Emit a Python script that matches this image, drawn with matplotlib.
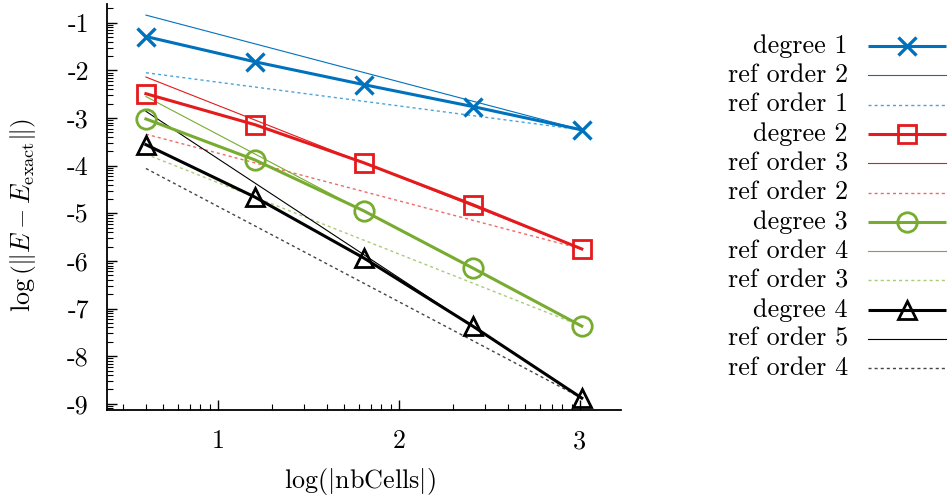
import numpy as np
import matplotlib
matplotlib.use("Agg")
import matplotlib.pyplot as plt
from matplotlib.ticker import LogLocator, FuncFormatter, NullFormatter

plt.rcParams['font.family'] = ['cmr10', 'DejaVu Serif']
plt.rcParams['mathtext.fontset'] = 'cm'
plt.rcParams['axes.unicode_minus'] = False
plt.rcParams['axes.formatter.use_mathtext'] = True

# ---- data (log10 values) ----
nb_cells = [4, 16, 64, 256, 1024]
deg1_log = [-1.29, -1.82, -2.30, -2.76, -3.25]
deg2_log = [-2.49, -3.14, -3.94, -4.82, -5.75]
deg3_log = [-3.02, -3.88, -4.95, -6.15, -7.37]
deg4_log = [-3.56, -4.66, -5.94, -7.37, -8.88]

# reference lines: values at first and last nbCells
ref_x = [4, 1024]
ref1_hi = [-0.84, -3.25]   # ref order 2 (degree 1)
ref1_lo = [-2.05, -3.25]   # ref order 1
ref2_hi = [-2.14, -5.75]   # ref order 3
ref2_lo = [-3.34, -5.75]   # ref order 2
ref3_hi = [-2.55, -7.37]   # ref order 4
ref3_lo = [-3.76, -7.37]   # ref order 3
ref4_hi = [-2.86, -8.88]   # ref order 5
ref4_lo = [-4.06, -8.88]   # ref order 4

labels = ["degree 1", "ref order 2", "ref order 1",
          "degree 2", "ref order 3", "ref order 2",
          "degree 3", "ref order 4", "ref order 3",
          "degree 4", "ref order 5", "ref order 4"]

blue, blue_l = "#0072BD", "#4DA3DB"
red, red_l = "#E41A1C", "#EE6A6B"
green, green_l = "#77AC30", "#A9CB7A"
black, black_l = "#000000", "#444444"

FS = 18.8
W, H = 949, 504
fig = plt.figure(figsize=(W / 100, H / 100), dpi=100)
ax = fig.add_axes([107 / W, 1 - 410 / H, (621 - 107) / W, (410 - 4) / H])

def p(v):
    return [10 ** x for x in v]

dot = (0, (2.2, 2.2))
styles = []
series = [
    (deg1_log, ref1_hi, ref1_lo, blue, blue_l, dict(marker='x', ms=13, mew=2.4)),
    (deg2_log, ref2_hi, ref2_lo, red, red_l, dict(marker='s', ms=13, mew=2.0, mfc='none')),
    (deg3_log, ref3_hi, ref3_lo, green, green_l, dict(marker='o', ms=14, mew=2.0, mfc='none')),
    (deg4_log, ref4_hi, ref4_lo, black, black_l, dict(marker='^', ms=13, mew=2.0, mfc='none')),
]
for d, rh, rl, c, cl, mk in series:
    ax.plot(ref_x, p(rh), color=c, lw=0.8, zorder=2)
    ax.plot(ref_x, p(rl), color=cl, lw=1.0, ls=dot, zorder=2)
    ax.plot(nb_cells, p(d), color=c, lw=2.2, mec=c, zorder=3, **mk)
    styles.append((c, cl, mk))

ax.set_xscale('log')
ax.set_yscale('log')
ax.set_xlim(10 ** 0.387, 10 ** 3.227)
ax.set_ylim(10 ** -9.13, 10 ** -0.607)

fmt = FuncFormatter(lambda v, pos: "%d" % int(round(np.log10(v))))
for a in (ax.xaxis, ax.yaxis):
    a.set_major_locator(LogLocator(base=10, numticks=30))
    a.set_minor_locator(LogLocator(base=10, subs=np.arange(2, 10), numticks=30))
    a.set_major_formatter(fmt)
    a.set_minor_formatter(NullFormatter())

ax.spines['top'].set_visible(False)
ax.spines['right'].set_visible(False)
ax.spines['left'].set_linewidth(1.3)
ax.spines['bottom'].set_linewidth(1.3)
ax.tick_params(which='major', direction='in', length=7, width=1.0, labelsize=FS)
ax.tick_params(which='minor', direction='in', length=4, width=0.8)
ax.tick_params(axis='x', pad=14)
ax.tick_params(axis='y', pad=13)

ax.set_xlabel(r'$\log(|\mathrm{nbCells}|)$', fontsize=FS)
ax.set_ylabel(r'$\log\left(\|E-E_{\mathrm{exact}}\|\right)$', fontsize=FS)
ax.xaxis.set_label_coords((360 - 107) / (621 - 107), -(466 - 410) / (410 - 4), transform=ax.transAxes)
ax.yaxis.set_label_coords(-(107 - 38) / (621 - 107), (410 - 215) / (410 - 4), transform=ax.transAxes)

# ---- legend (gnuplot style: right-aligned text, sample on the right) ----
lg = fig.add_axes([0, 0, 1, 1], facecolor='none')
lg.set_xlim(0, W)
lg.set_ylim(H, 0)
lg.axis('off')
y0, dy = 46, 29.3
for i, lab in enumerate(labels):
    y = y0 + i * dy
    lg.text(848, y, lab, ha='right', va='center', fontsize=FS)
    c, cl, mk = styles[i // 3]
    k = i % 3
    if k == 0:
        lg.plot([868, 946], [y, y], color=c, lw=2.2, solid_capstyle='butt')
        lg.plot([907], [y], color=c, mec=c, ls='none', **mk)
    elif k == 1:
        lg.plot([868, 946], [y, y], color=c, lw=0.8)
    else:
        lg.plot([868, 946], [y, y], color=cl, lw=1.0, ls=dot)

fig.savefig("out.png", dpi=100)
